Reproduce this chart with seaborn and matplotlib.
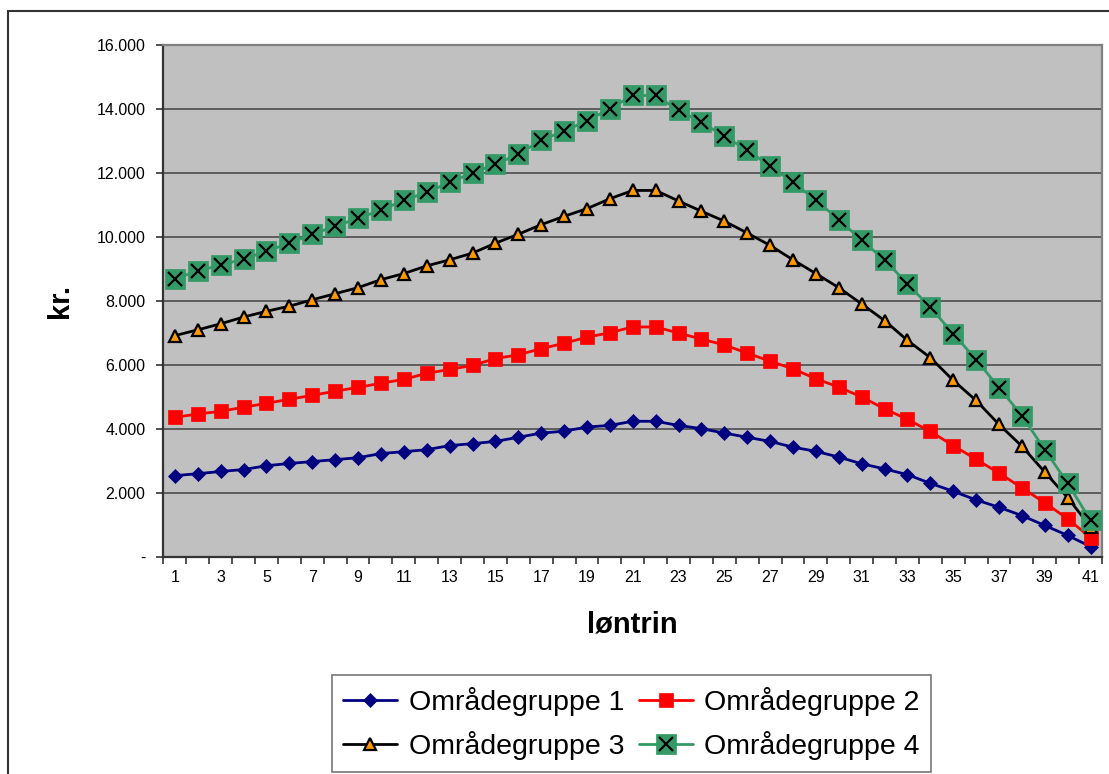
import numpy as np
import pandas as pd
import matplotlib
matplotlib.use('Agg')
import matplotlib.pyplot as plt
import seaborn as sns
from matplotlib.legend_handler import HandlerTuple
from matplotlib.patches import Rectangle
from matplotlib.ticker import FuncFormatter

# løntrin 1..41
loentrin = list(range(1, 42))

gruppe1 = [2530, 2590, 2660, 2720, 2840, 2910, 2970, 3030, 3090, 3220,
           3280, 3340, 3470, 3530, 3600, 3730, 3860, 3920, 4050, 4100,
           4230, 4230, 4100, 4000, 3860, 3730, 3600, 3420, 3290, 3110,
           2900, 2740, 2560, 2290, 2040, 1770, 1540, 1280, 970, 660, 310]
gruppe2 = [4350, 4460, 4540, 4670, 4790, 4920, 5040, 5170, 5290, 5420,
           5540, 5730, 5850, 5980, 6190, 6310, 6500, 6670, 6860, 7000,
           7180, 7180, 6990, 6800, 6620, 6360, 6110, 5870, 5560, 5300,
           4990, 4620, 4290, 3910, 3470, 3040, 2610, 2150, 1680, 1180, 590]
gruppe3 = [6910, 7090, 7280, 7490, 7670, 7830, 8030, 8220, 8410, 8660,
           8850, 9090, 9280, 9490, 9800, 10080, 10380, 10640, 10880, 11190,
           11450, 11450, 11120, 10800, 10490, 10120, 9730, 9280, 8850, 8410,
           7900, 7380, 6760, 6220, 5510, 4880, 4130, 3450, 2640, 1840, 920]
gruppe4 = [8690, 8930, 9120, 9300, 9550, 9800, 10080, 10330, 10580, 10830,
           11140, 11390, 11700, 12000, 12270, 12580, 13020, 13310, 13620, 14010,
           14420, 14420, 13960, 13590, 13140, 12720, 12200, 11710, 11140, 10540,
           9890, 9280, 8530, 7790, 6970, 6160, 5280, 4410, 3340, 2290, 1130]

labels = ['Områdegruppe 1', 'Områdegruppe 2', 'Områdegruppe 3', 'Områdegruppe 4']
y_ticks = list(range(0, 16001, 2000))

df = pd.DataFrame({'løntrin': loentrin, 'g1': gruppe1, 'g2': gruppe2,
                   'g3': gruppe3, 'g4': gruppe4})

sns.set_style('white')
plt.rcParams['font.family'] = ['Liberation Sans', 'DejaVu Sans']
plt.rcParams['text.color'] = 'black'
plt.rcParams['axes.labelcolor'] = 'black'
plt.rcParams['xtick.labelcolor'] = 'black'
plt.rcParams['ytick.labelcolor'] = 'black'

fig = plt.figure(figsize=(11.09, 7.74), dpi=100)
ax = fig.add_axes([0.1474, 0.281, 0.8463, 0.6609])
ax.set_facecolor('#C0C0C0')

# outer chart border (runs off the right and bottom edges)
fig.patches.append(Rectangle((8 / 1109, -0.5), 2.0, 1.4858, transform=fig.transFigure,
                             fill=False, edgecolor='#333333', linewidth=1.5, zorder=0))

for yv in y_ticks[1:-1]:
    ax.axhline(yv, color='#555555', linewidth=1.3, zorder=1)

l1 = sns.lineplot(data=df, x='løntrin', y='g1', ax=ax, color='#000080', linewidth=2,
                  marker='D', markersize=7, markeredgecolor='#000080',
                  markeredgewidth=0.5, zorder=3).lines[-1]
l2 = sns.lineplot(data=df, x='løntrin', y='g2', ax=ax, color='#FF0000', linewidth=2,
                  marker='s', markersize=10, markeredgecolor='#FF0000',
                  markeredgewidth=0.5, zorder=3).lines[-1]
l3 = sns.lineplot(data=df, x='løntrin', y='g3', ax=ax, color='black', linewidth=2,
                  marker='^', markersize=9, markerfacecolor='#FF9900',
                  markeredgecolor='black', markeredgewidth=1.6, zorder=4).lines[-1]
l4 = sns.lineplot(data=df, x='løntrin', y='g4', ax=ax, color='#339966', linewidth=2,
                  marker='s', markersize=14, markeredgecolor='#339966',
                  markeredgewidth=0.5, zorder=5).lines[-1]
l4x = sns.lineplot(data=df, x='løntrin', y='g4', ax=ax, color='black', linestyle='',
                   marker='x', markersize=10, markeredgecolor='black',
                   markeredgewidth=1.6, zorder=6).lines[-1]

ax.set_xlim(0.5, 41.5)
ax.set_ylim(0, 16000)

ax.set_yticks(y_ticks)
ax.yaxis.set_major_formatter(FuncFormatter(
    lambda v, p: '-' if v == 0 else f'{int(v):,}'.replace(',', '.')))
ax.set_xticks(loentrin[::2])
ax.set_xticklabels([str(v) for v in loentrin[::2]])
ax.set_xticks(np.arange(0.5, 42, 1.0), minor=True)
ax.tick_params(axis='x', which='major', length=0, pad=10, labelsize=11.5)
ax.tick_params(axis='x', which='minor', length=5, width=1.2, color='#333333', direction='out')
ax.tick_params(axis='y', which='major', length=5, width=1.2, color='#333333',
               direction='out', pad=8, labelsize=11.5)
ax.yaxis.set_ticks_position('left')
ax.xaxis.set_ticks_position('bottom')

for side in ['left', 'bottom']:
    ax.spines[side].set_color('#333333')
    ax.spines[side].set_linewidth(1.6)
for side in ['top', 'right']:
    ax.spines[side].set_color('#808080')
    ax.spines[side].set_linewidth(1.6)

ax.set_xlabel('løntrin', fontsize=21, fontweight='bold', labelpad=18)
ax.set_ylabel('kr.', fontsize=21, fontweight='bold', labelpad=16)

handles = [l1, l3, l2, (l4, l4x)]
leg_labels = [labels[0], labels[2], labels[1], labels[3]]
leg = fig.legend(handles, leg_labels, loc='center', bbox_to_anchor=(0.5694, 0.0652),
                 ncol=2, fontsize=20.5, frameon=True, fancybox=False,
                 handlelength=1.9, handletextpad=0.4, columnspacing=0.5,
                 labelspacing=0.55, borderpad=0.4,
                 handler_map={tuple: HandlerTuple(ndivide=1)})
leg.get_frame().set_edgecolor('#555555')
leg.get_frame().set_linewidth(1.2)

plt.savefig('out.png', dpi=100)
